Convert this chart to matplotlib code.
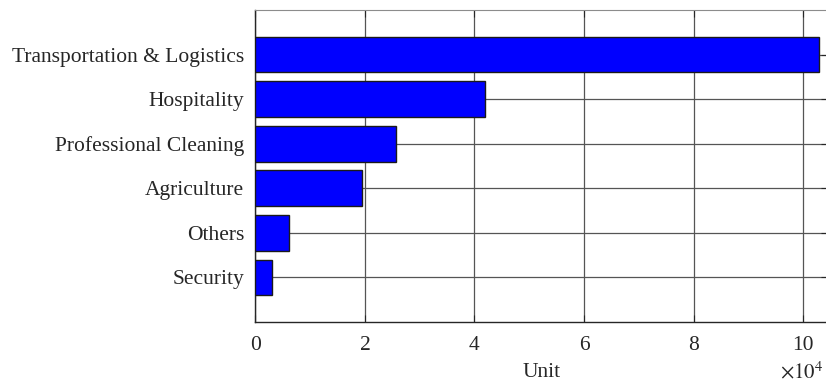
import numpy as np
import matplotlib.pyplot as plt
from matplotlib.ticker import FuncFormatter

SECTORS = ["Transportation & Logistics", "Hospitality", "Professional Cleaning",
           "Agriculture", "Others", "Security"]
UNITS = [102900, 42000, 25600, 19500, 6100, 3100]
X_TICKS = [0, 20000, 40000, 60000, 80000, 100000]


def main():
    plt.rcParams.update({
        'font.family': 'Liberation Serif',
        'mathtext.fontset': 'stix',
        'font.size': 15.5,
    })

    fig = plt.figure(figsize=(8.26, 3.86), dpi=100)
    ax = fig.add_axes([0.3093, 0.166, 0.6907 + 0.002, 0.808])

    # top category at the top, like a MATLAB barh with reversed order
    pos = np.arange(len(SECTORS), 0, -1)
    ax.barh(pos, UNITS, height=0.8, color='#0000ff', edgecolor='#1a1a1a',
            linewidth=1.0, zorder=3)

    ax.set_ylim(0, len(SECTORS) + 1)
    ax.set_xlim(0, 104500)
    ax.set_yticks(pos)
    ax.set_yticklabels(SECTORS)
    ax.set_xticks(X_TICKS)
    ax.xaxis.set_major_formatter(FuncFormatter(lambda v, _: f"{v / 1e4:g}"))

    ax.grid(True, color='#555555', linewidth=0.9, zorder=0)
    ax.set_axisbelow(True)
    ax.tick_params(direction='in', length=5, width=0.8, colors='#262626',
                   labelcolor='#262626', top=True, right=True)
    ax.tick_params(axis='x', pad=10)
    ax.tick_params(axis='y', pad=8)
    for side in ['left', 'bottom']:
        ax.spines[side].set_color('#262626')
        ax.spines[side].set_linewidth(1.0)
    ax.spines['top'].set_color('#8c8c8c')
    ax.spines['right'].set_color('#8c8c8c')

    ax.set_xlabel("Unit", color='#262626', labelpad=6)
    ax.text(0.993, -0.162, r'$\times10^{4}$', transform=ax.transAxes,
            ha='right', va='center', color='#262626', fontsize=15)

    fig.savefig('out.png', dpi=100)


if __name__ == '__main__':
    main()
